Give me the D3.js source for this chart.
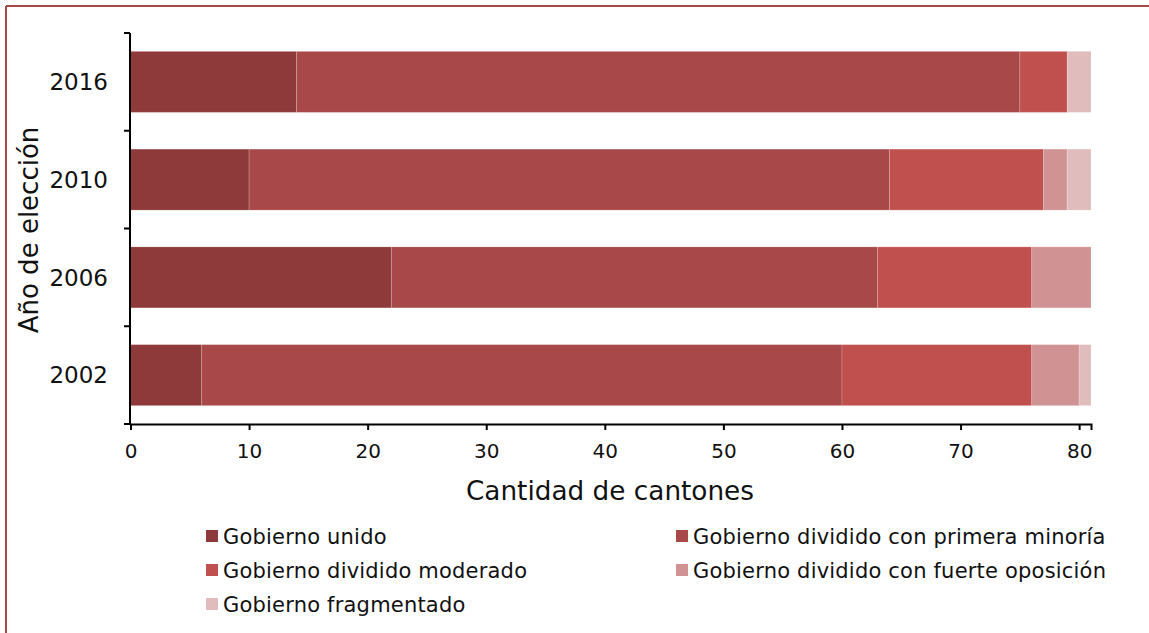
<!DOCTYPE html>
<html>
<head>
<meta charset="utf-8">
<script src="https://cdn.jsdelivr.net/npm/d3@7"></script>
<style>
  html, body { margin: 0; padding: 0; background: #fff; }
  svg { display: block; font-family: "DejaVu Sans", Verdana, sans-serif; }
</style>
</head>
<body>
<svg id="chart" width="1149" height="633"></svg>
<script>
// ---- data ----
const years = ["2002", "2006", "2010", "2016"];
const seriesNames = [
  "Gobierno unido",
  "Gobierno dividido con primera minoría",
  "Gobierno dividido moderado",
  "Gobierno dividido con fuerte oposición",
  "Gobierno fragmentado"
];
const unido        = [6, 22, 10, 14];
const primeraMin   = [54, 41, 54, 61];
const moderado     = [16, 13, 13, 4];
const fuerteOpos   = [4, 5, 2, 0];
const fragmentado  = [1, 0, 2, 2];
const xTicks = [0, 10, 20, 30, 40, 50, 60, 70, 80];
const colors = ["#8E3A3A", "#A84848", "#C0504D", "#D09292", "#E0BCBC"];

const seriesValues = [unido, primeraMin, moderado, fuerteOpos, fragmentado];
const rows = years.map((yr, i) => {
  const r = { year: yr };
  seriesNames.forEach((s, j) => r[s] = seriesValues[j][i]);
  return r;
});

const svg = d3.select("#chart");

// frame
svg.append("line").attr("x1", 6).attr("x2", 1149).attr("y1", 6).attr("y2", 6)
  .attr("stroke", "#A84848").attr("stroke-width", 2);
svg.append("line").attr("x1", 6).attr("x2", 6).attr("y1", 6).attr("y2", 633)
  .attr("stroke", "#A84848").attr("stroke-width", 2);

const x = d3.scaleLinear().domain([0, 81]).range([130.5, 1091]);
const y = d3.scaleBand().domain(years.slice().reverse()).range([33, 424])
  .paddingInner(0.376).paddingOuter(0.188);

const stacked = d3.stack().keys(seriesNames)(rows);

svg.append("g").selectAll("g").data(stacked).join("g")
  .attr("fill", (d, i) => colors[i])
  .selectAll("rect").data(d => d).join("rect")
  .attr("x", d => x(d[0]))
  .attr("width", d => Math.max(0, x(d[1]) - x(d[0])))
  .attr("y", d => y(d.data.year))
  .attr("height", y.bandwidth())
  .attr("stroke", "rgba(255,255,255,0.18)")
  .attr("stroke-width", 1);

// x axis
const xAxis = svg.append("g").attr("transform", "translate(0,424)")
  .call(d3.axisBottom(x).tickValues(xTicks).tickSizeOuter(0).tickSize(6).tickPadding(14));
xAxis.select(".domain").attr("stroke", "#000").attr("stroke-width", 2);
xAxis.selectAll(".tick line").attr("stroke", "#000").attr("stroke-width", 2);
xAxis.selectAll(".tick text").attr("font-size", 20).attr("fill", "#111")
  .attr("font-family", "DejaVu Sans, Verdana, sans-serif");

// y axis
const y0 = y.range()[0], step = y.step();
svg.append("line").attr("x1", 130).attr("x2", 130).attr("y1", y0).attr("y2", 425)
  .attr("stroke", "#000").attr("stroke-width", 2);
d3.range(years.length + 1).forEach(i => {
  svg.append("line").attr("x1", 124).attr("x2", 130)
    .attr("y1", y0 + i * step).attr("y2", y0 + i * step)
    .attr("stroke", "#000").attr("stroke-width", 2);
});
svg.append("g").selectAll("text").data(years).join("text")
  .attr("x", 108)
  .attr("y", d => y(d) + y.bandwidth() / 2)
  .attr("dy", "0.36em")
  .attr("text-anchor", "end")
  .attr("font-size", 23)
  .attr("fill", "#111")
  .text(d => d);

// axis titles
svg.append("text")
  .attr("transform", "translate(38,230) rotate(-90)")
  .attr("text-anchor", "middle")
  .attr("font-size", 26)
  .attr("fill", "#111")
  .text("Año de elección");
svg.append("text")
  .attr("x", 610).attr("y", 500)
  .attr("text-anchor", "middle")
  .attr("font-size", 26.3)
  .attr("fill", "#111")
  .text("Cantidad de cantones");

// legend
const legendPos = [
  [206, 536], [676, 536],
  [206, 570], [676, 570],
  [206, 604]
];
const lg = svg.append("g").selectAll("g").data(seriesNames).join("g")
  .attr("transform", (d, i) => `translate(${legendPos[i][0]},${legendPos[i][1]})`);
lg.append("rect").attr("x", 0).attr("y", -6).attr("width", 12).attr("height", 12)
  .attr("fill", (d, i) => colors[i]);
lg.append("text").attr("x", 17).attr("y", 0).attr("dy", "0.36em")
  .attr("font-size", 21).attr("letter-spacing", 0.2).attr("fill", "#111").text(d => d);
</script>
</body>
</html>
